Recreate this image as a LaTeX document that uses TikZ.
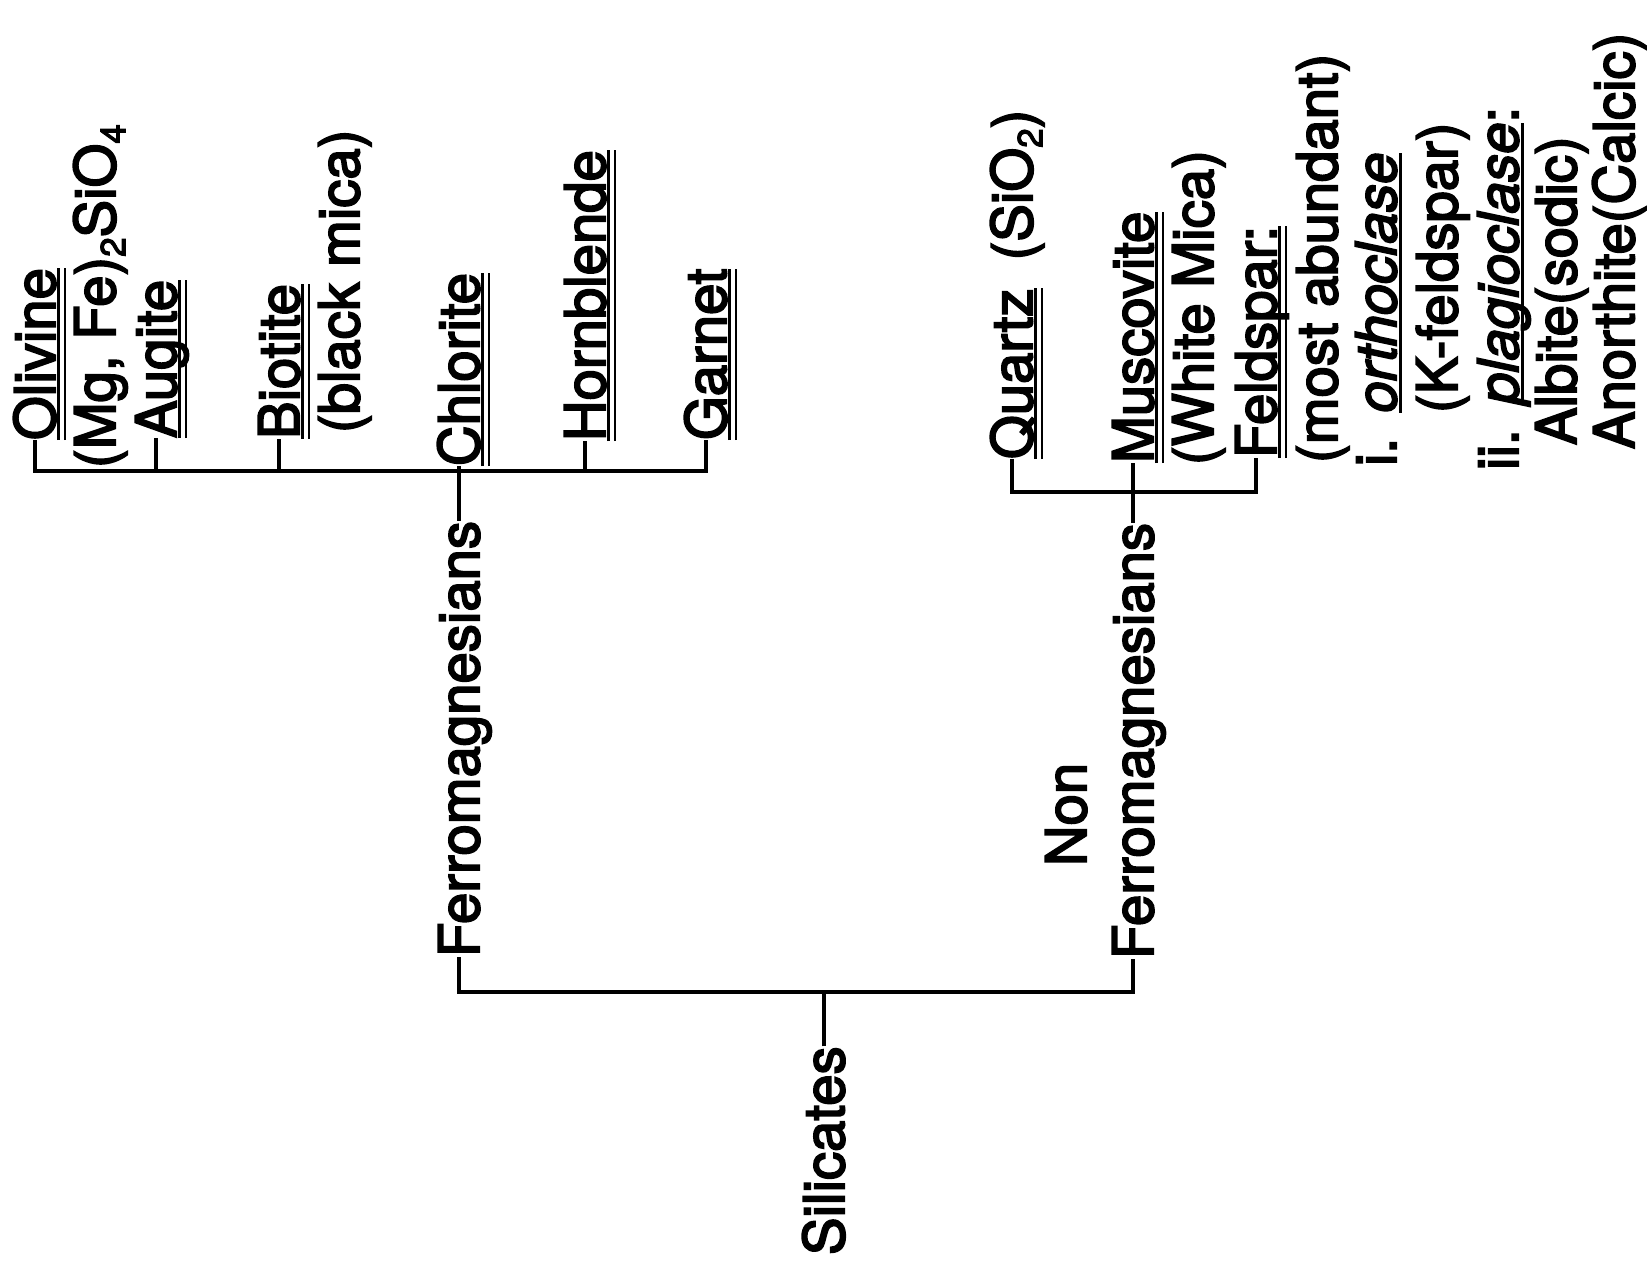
\documentclass[tikz,border=0pt]{standalone}
\usepackage{fontspec}
\usepackage{graphicx}
\setmainfont{TeX Gyre Heros}[FakeBold=3.2]
\newcommand\dul[1]{\setbox0=\hbox{#1}\rlap{\rule[-0.08em]{\wd0}{0.045em}}\rlap{\rule[-0.2em]{\wd0}{0.045em}}\box0}
\newcommand\sul[1]{\setbox0=\hbox{#1}\rlap{\rule[-0.1em]{\wd0}{0.045em}}\box0}
\newcommand\sbs[1]{\raisebox{-0.18em}{\scalebox{0.62}{#1}}}
\begin{document}
\begin{tikzpicture}[x=0.01cm,y=-0.01cm,
  lbl/.style={rotate=90,anchor=west,inner sep=0pt,outer sep=0pt,
    text height=11.5pt,text depth=0pt,font=\fontsize{16}{19}\selectfont},
  conn/.style={line width=1.1pt}]
\fill[white] (0,0) rectangle (1647,1262);
\useasboundingbox (0,0) rectangle (1647,1262);
% ferromagnesian minerals
\node[lbl] (olivine) at (35,440) {\dul{Olivine}};
\node[lbl] (mgfe) at (95,468) {(Mg, Fe)\sbs{2}SiO\sbs{4}};
\node[lbl] (augite) at (156,438) {\dul{Augite}};
\node[lbl] (biotite) at (279,439) {\dul{Biotite}};
\node[lbl] (blackmica) at (339,433) {(black mica)};
\node[lbl] (chlorite) at (459,466) {\dul{Chlorite}};
\node[lbl] (hornblende) at (585,441) {\dul{Hornblende}};
\node[lbl] (garnet) at (706,440) {\dul{Garnet}};
% groups
\node[lbl] (ferro) at (459,957) {Ferromagnesians};
\node[lbl] (silicates) at (824,1255) {Silicates};
\node[lbl] (non) at (1066,866) {Non};
\node[lbl] (nonferro) at (1133,959) {Ferromagnesians};
% non-ferromagnesian minerals
\node[lbl] (quartz) at (1012,459) {\dul{Quartz}\hspace{0.5em}(SiO\sbs{2})};
\node[lbl] (muscovite) at (1133,463) {\dul{Muscovite}};
\node[lbl] (whitemica) at (1193,465) {(White Mica)};
\node[lbl] (feldspar) at (1256,458) {\dul{Feldspar:}};
\node[lbl] (abundant) at (1317,463) {(most abundant)};
\node[lbl] (ortho) at (1376,466) {i.\hspace{0.45em}\sul{\textit{orthoclase}}};
\node[lbl] (kfeld) at (1437,413) {(K-feldspar)};
\node[lbl] (plagio) at (1498,470) {ii.\hspace{0.45em}\sul{\textit{plagioclase}}:};
\node[lbl] (albite) at (1556,445) {Albite(sodic)};
\node[lbl] (anorthite) at (1614,449) {Anorthite(Calcic)};
% junctions
\coordinate (fb) at (459,471);
\coordinate (sb) at (824,992);
\coordinate (nb) at (1133,492);
% connectors
\draw[conn] (olivine.west) |- (fb) -| (garnet.west);
\draw[conn] (augite.west) -- (augite.west |- fb);
\draw[conn] (biotite.west) -- (biotite.west |- fb);
\draw[conn] (hornblende.west) -- (hornblende.west |- fb);
\draw[conn] (ferro.east) -- (chlorite.west);
\draw[conn] (ferro.west) |- (sb) -| (nonferro.west);
\draw[conn] (silicates.east) -- (sb);
\draw[conn] (quartz.west) |- (nb) -| (feldspar.west);
\draw[conn] (nonferro.east) -- (muscovite.west);
\end{tikzpicture}
\end{document}
